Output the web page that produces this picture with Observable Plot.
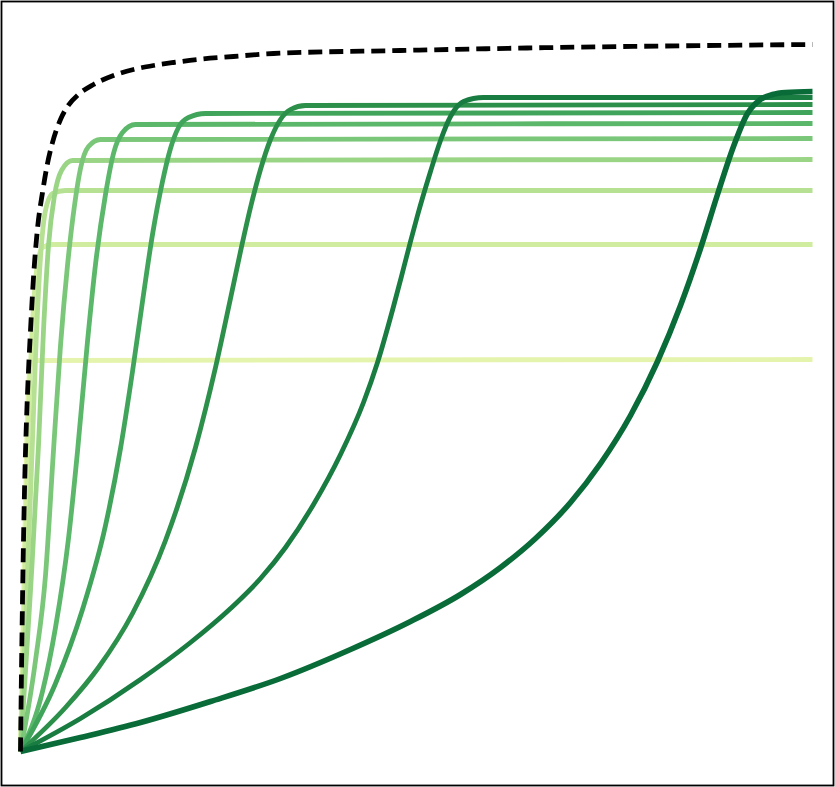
<!DOCTYPE html>
<html>
<head>
<meta charset="utf-8">
<script src="https://cdn.jsdelivr.net/npm/d3@7"></script>
<script src="https://cdn.jsdelivr.net/npm/@observablehq/plot@0.6"></script>
<style>
  html, body { margin: 0; padding: 0; background: #fff; }
  #chart svg { display: block; }
</style>
</head>
<body>
<div id="chart"></div>
<script>
// Values: [x, y] pairs per curve (origin at the common start point)
const curve1  = [[0,0],[3,151],[6,301],[8,366],[10,386],[13,391],[792,392]];
const curve2  = [[0,0],[4,151],[8,328],[12,428],[17,488],[22,504],[32,507],[792,507]];
const curve3  = [[0,0],[6,151],[12,311],[15,394],[20,494],[25,541],[32,558],[45,561],[792,561]];
const curve4  = [[0,0],[10,161],[18,306],[23,421],[28,506],[34,556],[41,581],[52,591],[792,592]];
const curve5  = [[0,0],[15,91],[25,176],[33,301],[40,406],[47,486],[54,546],[60,583],[68,605],[80,612],[792,613]];
const curve6  = [[0,0],[22,60],[35,124],[48,213],[57,300],[67,410],[75,487],[85,557],[93,598],[102,619],[115,627],[792,628]];
const curve7  = [[0,0],[35,68],[62,142],[85,226],[100,303],[112,380],[122,450],[132,517],[142,570],[150,603],[158,624],[168,634],[185,638],[792,639]];
const curve8  = [[0,0],[45,44],[78,84],[112,138],[145,211],[175,304],[195,384],[210,453],[220,500],[230,544],[240,582],[250,612],[260,632],[270,642],[285,646],[792,647]];
const curve9  = [[0,0],[60,33],[120,72],[170,109],[210,143],[240,173],[265,204],[293,247],[320,297],[343,349],[357,389],[373,445],[383,483],[390,510],[397,536],[410,580],[420,611],[430,635],[443,650],[463,654],[792,654]];
const curve10 = [[0,0],[60,14],[120,29],[190,50],[260,73],[330,102],[390,130],[440,157],[480,184],[515,213],[550,249],[580,288],[610,336],[637,390],[660,446],[680,503],[697,557],[713,605],[727,638],[740,652],[752,657],[765,659],[792,660]];
const envelope = [[0,0],[1,81],[2,151],[3,211],[4,261],[6,331],[8,381],[10,421],[13,474],[17,523],[22,559],[27,588],[32,609],[40,632],[47,645],[58,657],[73,667],[93,676],[113,682],[133,686],[153,689],[177,692],[213,695],[253,698],[380,701],[535,704],[792,707]];

const curves = [curve1, curve2, curve3, curve4, curve5, curve6, curve7, curve8, curve9, curve10];

// styles
const shade = curves.map((_, i) => d3.interpolateYlGn(0.2 + i * (0.66 / 9)));
const widths = curves.map((_, i) => i === 9 ? 5.6 : 4.8);

const marks = [Plot.frame({stroke: "black", strokeWidth: 1.8})];
curves.forEach((c, i) => {
  marks.push(Plot.line(c, {
    x: d => d[0], y: d => d[1],
    stroke: shade[i], strokeWidth: widths[i], curve: "monotone-x",
    strokeLinejoin: "round", strokeLinecap: "butt"
  }));
});
marks.push(Plot.line(envelope, {
  x: d => d[0], y: d => d[1],
  stroke: "black", strokeWidth: 4.8, strokeDasharray: "14,7", curve: "monotone-x",
  strokeLinecap: "butt"
}));

const chart = Plot.plot({
  width: 835,
  height: 787,
  marginLeft: 1,
  marginRight: 2,
  marginTop: 1,
  marginBottom: 2,
  x: {domain: [-19, 813], axis: null},
  y: {domain: [-34, 750], axis: null},
  marks
});
document.getElementById("chart").appendChild(chart);
</script>
</body>
</html>
